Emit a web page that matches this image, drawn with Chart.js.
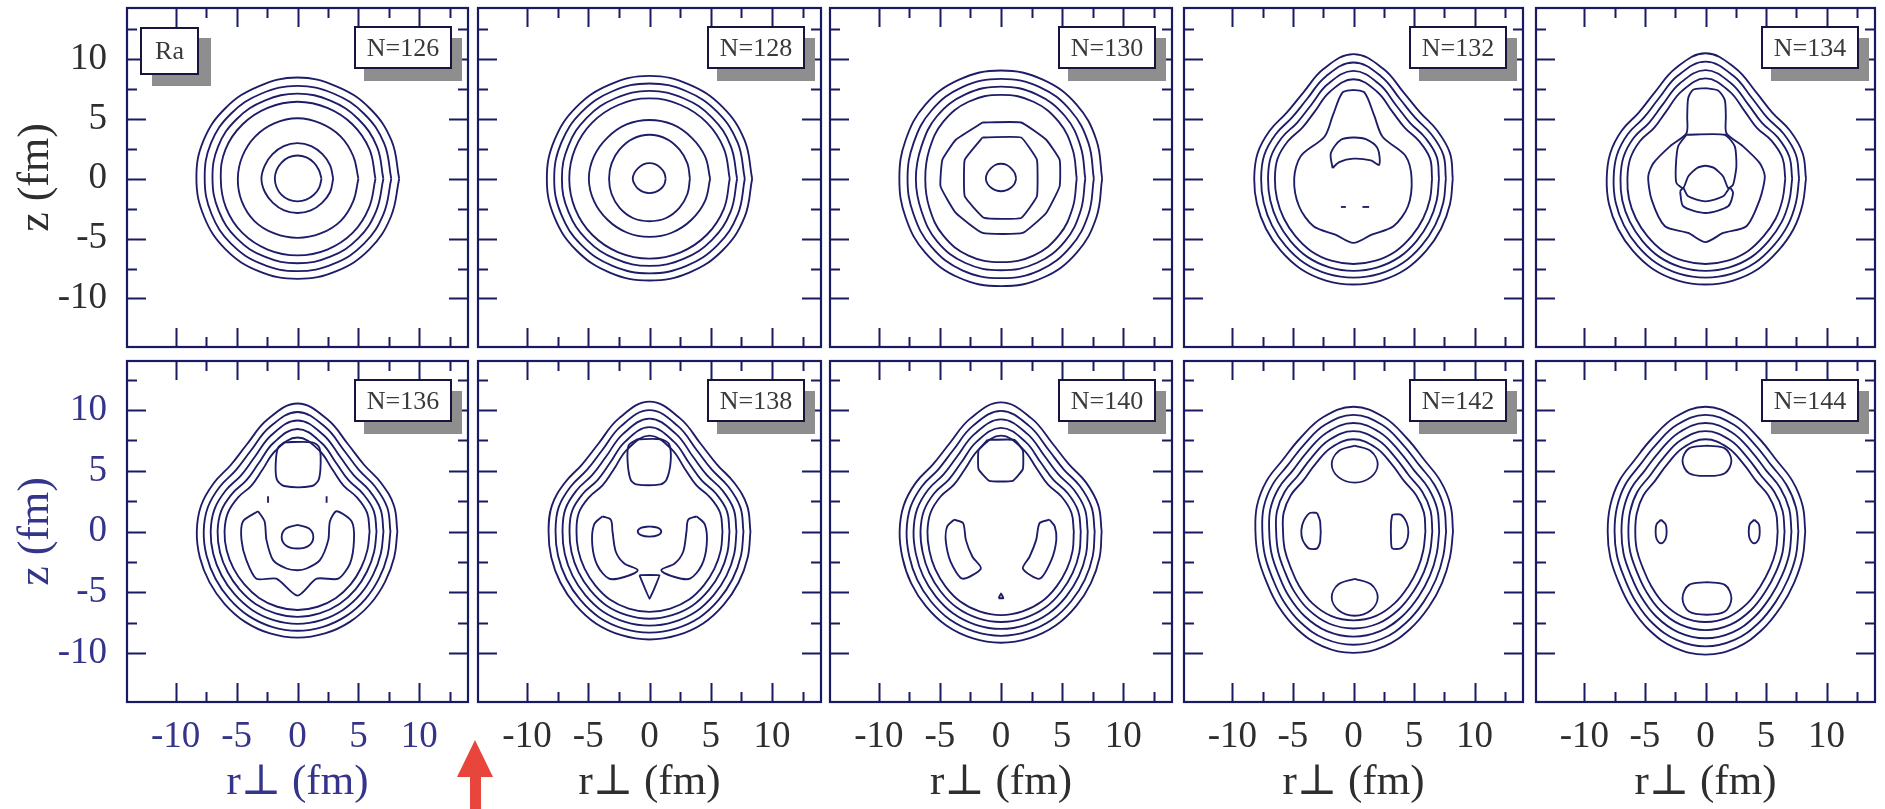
<!DOCTYPE html>
<html><head><meta charset="utf-8">
<script src="https://cdn.jsdelivr.net/npm/chart.js@4.4.1/dist/chart.umd.min.js"></script>
<style>
html,body{margin:0;padding:0;background:#fff;width:1885px;height:809px;overflow:hidden;position:relative}
canvas{position:absolute}
.lbl{position:absolute;box-sizing:border-box;border:2px solid #15153f;background:#fff;box-shadow:10px 12px 0 #8e8e8e;font-family:"Liberation Serif",serif;font-size:26px;color:#3a3a3a;display:flex;align-items:center;justify-content:center;line-height:1}
</style></head><body>
<svg style="position:absolute;left:440px;top:730px" width="80" height="79"><polygon points="35,10 17,47 30,47 30,79 41,79 41,47 53,47" fill="#e8453c"/></svg>
<script>
// ---------- text / ticks ----------
const panelNames = ['N=126','N=128','N=130','N=132','N=134','N=136','N=138','N=140','N=142','N=144'];
const elementName = 'Ra';
const xTitle = 'r\u22A5 (fm)';
const yTitle = 'z (fm)';
const majorTicks = [-10, -5, 0, 5, 10];
const majorTickLabels = ['-10', '-5', '0', '5', '10'];
const minorTicks = [-7.5, -2.5, 2.5, 7.5, 12.5];
// angles (degrees) at which radii of origin-centred contours are read
const ringAngles16 = [0, 22.5, 45, 67.5, 90, 112.5, 135, 157.5, 180, 202.5, 225, 247.5, 270, 292.5, 315, 337.5];
const ringAngles24 = [0, 15, 30, 45, 60, 75, 90, 105, 120, 135, 150, 165, 180, 195, 210, 225, 240, 255, 270, 285, 300, 315, 330, 345];

// ---------- contour data (fm) ----------
// N=126
const rings126 = [
  [8.35,8.35,8.35,8.35,8.45,8.35,8.35,8.35,8.3,8.3,8.35,8.35,8.36,8.35,8.35,8.3],
  [7.7,7.7,7.7,7.7,7.75,7.7,7.7,7.7,7.62,7.65,7.7,7.7,7.72,7.7,7.7,7.65],
  [7.05,7.05,7.05,7.05,7.1,7.05,7.05,7.05,6.98,7.0,7.05,7.05,7.06,7.05,7.05,7.0],
  [6.4,6.4,6.4,6.4,6.42,6.4,6.4,6.4,6.3,6.35,6.4,6.4,6.4,6.4,6.4,6.35],
  [5.0,4.95,5.0,5.0,5.05,5.0,4.95,4.9,4.9,4.95,5.0,4.95,4.94,4.95,5.0,4.95],
  [2.93,2.9,2.9,2.95,2.97,2.95,2.9,2.9,2.96,2.9,2.85,2.86,2.86,2.86,2.85,2.9],
  [1.97,1.9,1.9,1.92,1.94,1.92,1.88,1.86,1.86,1.86,1.88,1.89,1.89,1.89,1.9,1.93]
];
const islands126 = [];
const islandTension126 = [];
const strokes126 = [];
// N=128
const rings128 = [
  [8.38,8.4,8.45,8.5,8.58,8.5,8.45,8.4,8.38,8.4,8.45,8.48,8.5,8.48,8.45,8.4],
  [7.78,7.8,7.85,7.9,7.95,7.9,7.85,7.8,7.78,7.8,7.85,7.88,7.9,7.88,7.85,7.8],
  [7.15,7.17,7.22,7.27,7.33,7.27,7.22,7.17,7.15,7.17,7.22,7.25,7.28,7.25,7.22,7.17],
  [6.55,6.57,6.62,6.66,6.7,6.66,6.62,6.57,6.55,6.57,6.62,6.65,6.67,6.65,6.62,6.57],
  [4.95,4.9,4.85,4.9,4.9,4.9,4.85,4.9,4.95,4.9,4.85,4.86,4.86,4.86,4.85,4.9],
  [3.3,3.35,3.45,3.6,3.67,3.6,3.45,3.35,3.3,3.35,3.45,3.55,3.55,3.55,3.45,3.35],
  [1.32,1.3,1.28,1.3,1.3,1.3,1.28,1.32,1.37,1.3,1.25,1.22,1.2,1.22,1.25,1.3]
];
const islands128 = [];
const islandTension128 = [];
const strokes128 = [];
// N=130
const rings130 = [
  [8.28,8.45,8.75,8.95,9.03,8.95,8.75,8.45,8.32,8.45,8.75,8.95,8.97,8.95,8.75,8.45],
  [7.6,7.75,8.05,8.28,8.33,8.28,8.05,7.75,7.65,7.75,8.05,8.28,8.3,8.28,8.05,7.75],
  [6.9,7.05,7.4,7.62,7.69,7.62,7.4,7.05,6.97,7.05,7.4,7.62,7.64,7.62,7.4,7.05],
  [6.2,6.35,6.7,6.95,7.0,6.95,6.7,6.35,6.2,6.35,6.7,6.95,6.97,6.95,6.7,6.35],
  [1.24,1.22,1.2,1.24,1.25,1.24,1.2,1.22,1.24,1.18,1.1,1.06,1.05,1.06,1.1,1.18]
];
const islands130 = [
  [[-1.51,4.69],[1.65,4.69],[3.7,3.25],[4.8,1.58],[4.8,-0.64],[3.7,-2.86],[1.78,-4.53],[-1.51,-4.53],[-3.7,-2.86],[-4.95,-0.64],[-4.8,1.58],[-3.7,3.25]],
  [[-1.51,3.44],[1.65,3.44],[2.94,1.58],[2.94,-1.47],[1.65,-3.28],[-1.37,-3.28],[-2.97,-1.47],[-2.97,1.58]]
];
const islandTension130 = [0.12, 0.1];
const strokes130 = [];
// N=132
const rings132 = [
  [8.2,8.25,8.0,7.8,8.3,9.5,10.4,9.5,8.3,7.8,8.0,8.2,8.2,8.25,8.35,8.5,8.7,8.8,8.83,8.8,8.7,8.5,8.35,8.25],
  [7.63,7.68,7.42,7.2,7.68,8.84,9.7,8.84,7.68,7.2,7.42,7.63,7.63,7.68,7.78,7.93,8.13,8.23,8.26,8.23,8.13,7.93,7.78,7.68],
  [7.06,7.11,6.84,6.6,7.06,8.18,9.0,8.18,7.06,6.6,6.84,7.06,7.06,7.11,7.21,7.36,7.56,7.66,7.69,7.66,7.56,7.36,7.21,7.11],
  [6.49,6.54,6.26,6.0,6.44,7.52,8.3,7.52,6.44,6.0,6.26,6.49,6.49,6.54,6.64,6.79,6.99,7.09,7.12,7.09,6.99,6.79,6.64,6.54]
];
const islands132 = [
  [[0,7.42],[0.9,7.2],[1.7,5.3],[2.4,3.5],[4.3,1.9],[4.8,0],[4.5,-2.3],[3.3,-3.97],[1.5,-4.67],[0,-5.36],[-1.5,-4.67],[-3.3,-3.97],[-4.5,-2.3],[-4.9,0],[-4.35,1.9],[-2.4,3.5],[-1.7,5.3],[-0.9,7.2]],
  [[-1.73,0.89],[-1.87,2.14],[-1.04,3.25],[0,3.44],[1.02,3.3],[1.98,2.55],[2.12,1.17],[1.43,1.53],[0,1.67],[-1.18,1.39]]
];
const islandTension132 = [0.3, 0.3];
const strokes132 = [
  [[-1.04,-2.36],[-0.63,-2.36]],
  [[0.74,-2.36],[1.29,-2.36]]
];
// N=134
const rings134 = [
  [8.3,8.3,8.05,7.8,8.35,9.55,10.47,9.55,8.35,7.8,8.0,8.15,8.16,8.25,8.35,8.5,8.7,8.8,8.83,8.8,8.7,8.5,8.4,8.3],
  [7.73,7.73,7.47,7.2,7.73,8.89,9.77,8.89,7.73,7.2,7.42,7.58,7.59,7.68,7.78,7.93,8.13,8.23,8.26,8.23,8.13,7.93,7.83,7.73],
  [7.16,7.16,6.89,6.6,7.11,8.23,9.07,8.23,7.11,6.6,6.84,7.01,7.02,7.11,7.21,7.36,7.56,7.66,7.69,7.66,7.56,7.36,7.26,7.16],
  [6.59,6.59,6.31,6.0,6.49,7.57,8.37,7.57,6.49,6.0,6.26,6.44,6.45,6.54,6.64,6.79,6.99,7.09,7.12,7.09,6.99,6.79,6.69,6.59]
];
const islands134 = [
  [[0,7.56],[1.04,7.36],[1.59,6.58],[1.68,5.2],[1.73,3.8],[3.1,2.7],[4.48,1.3],[4.9,0.2],[4.48,-1.75],[3.38,-3.97],[1.46,-4.53],[0,-5.3],[-1.43,-4.53],[-3.35,-3.97],[-4.45,-1.75],[-4.73,0.2],[-4.3,1.3],[-2.94,2.7],[-1.57,3.8],[-1.51,5.2],[-1.43,6.72],[-1.02,7.42]],
  [[-1.57,3.67],[1.59,3.67],[2.42,2.7],[2.55,1.03],[2.28,-0.5],[1.87,-0.78],[1.46,0.19],[0.7,0.9],[0,1.08],[-0.7,0.9],[-1.43,0.19],[-1.84,-0.78],[-2.4,-0.36],[-2.45,1.03],[-2.26,2.7]],
  [[-2.1,-1.05],[-1.84,-2.3],[0,-2.86],[1.87,-2.3],[2.28,-1.19],[2.0,-0.78],[1.46,-1.47],[0,-1.89],[-1.43,-1.47],[-1.84,-0.78]]
];
const islandTension134 = [0.25, 0.2, 0.25];
const strokes134 = [];
// N=136
const rings136 = [
  [8.2,8.2,7.95,7.75,8.3,9.55,10.55,9.55,8.3,7.75,7.95,8.2,8.27,8.3,8.35,8.45,8.6,8.7,8.75,8.7,8.6,8.45,8.3,8.22],
  [7.63,7.63,7.37,7.15,7.68,8.89,9.85,8.89,7.68,7.15,7.37,7.63,7.7,7.73,7.78,7.88,8.03,8.13,8.18,8.13,8.03,7.88,7.73,7.65],
  [7.06,7.06,6.79,6.55,7.06,8.23,9.15,8.23,7.06,6.55,6.79,7.06,7.13,7.16,7.21,7.31,7.46,7.56,7.61,7.56,7.46,7.31,7.16,7.08],
  [6.49,6.49,6.21,5.95,6.44,7.57,8.45,7.57,6.44,5.95,6.21,6.49,6.56,6.59,6.64,6.74,6.89,6.99,7.04,6.99,6.89,6.74,6.59,6.51],
  [5.92,5.92,5.63,5.35,5.82,6.91,7.75,6.91,5.82,5.35,5.63,5.92,5.99,6.02,6.07,6.17,6.32,6.42,6.47,6.42,6.32,6.17,6.02,5.94]
];
const islands136 = [
  [[-1.1,7.35],[1.2,7.35],[1.8,6.9],[1.9,5.6],[1.75,4.3],[1.2,3.75],[-1.1,3.75],[-1.7,4.3],[-1.79,5.6],[-1.6,6.9]],
  [[-3.24,1.67],[-4.48,0.83],[-4.6,-0.69],[-4.2,-2.36],[-3.38,-3.89],[-1.73,-3.89],[0,-5.28],[1.57,-3.89],[3.35,-3.89],[4.31,-2.64],[4.64,-0.69],[4.45,0.83],[3.21,1.67],[2.66,0.83],[2.53,-0.69],[1.84,-2.36],[0.74,-3.05],[0,-3.19],[-0.9,-3.05],[-2.0,-2.36],[-2.55,-0.69],[-2.7,0.83]],
  [[0,0.55],[0.95,0.25],[1.3,-0.45],[0.95,-1.15],[0,-1.4],[-0.95,-1.15],[-1.3,-0.45],[-0.95,0.25]]
];
const islandTension136 = [0.3, 0.25, 0.35];
const strokes136 = [
  [[-2.42,2.9],[-2.42,2.36]],
  [[2.39,2.9],[2.39,2.36]]
];
// N=138
const rings138 = [
  [8.24,8.25,8.0,7.8,8.35,9.65,10.7,9.65,8.35,7.8,8.0,8.25,8.24,8.3,8.4,8.55,8.75,8.85,8.9,8.85,8.75,8.55,8.4,8.3],
  [7.67,7.68,7.42,7.2,7.73,8.99,10.0,8.99,7.73,7.2,7.42,7.68,7.67,7.73,7.83,7.98,8.18,8.28,8.33,8.28,8.18,7.98,7.83,7.73],
  [7.1,7.11,6.84,6.6,7.11,8.33,9.3,8.33,7.11,6.6,6.84,7.11,7.1,7.16,7.26,7.41,7.61,7.71,7.76,7.71,7.61,7.41,7.26,7.16],
  [6.53,6.54,6.26,6.0,6.49,7.67,8.6,7.67,6.49,6.0,6.26,6.54,6.53,6.59,6.69,6.84,7.04,7.14,7.19,7.14,7.04,6.84,6.69,6.59],
  [5.96,5.97,5.68,5.4,5.87,7.01,7.9,7.01,5.87,5.4,5.68,5.97,5.96,6.02,6.12,6.27,6.47,6.57,6.62,6.57,6.47,6.27,6.12,6.02]
];
const islands138 = [
  [[-1.0,7.6],[0.9,7.6],[1.6,7.2],[1.73,5.8],[1.4,4.3],[0.9,3.89],[-1.1,3.89],[-1.55,4.3],[-1.79,5.8],[-1.7,7.1]],
  [[-3.85,1.25],[-4.53,0.56],[-4.67,-1.1],[-4.26,-2.78],[-3.3,-3.89],[-2.06,-3.75],[-0.96,-3.19],[-2.06,-2.64],[-2.75,-1.67],[-3.02,0],[-3.16,0.97]],
  [[3.85,1.25],[4.53,0.56],[4.67,-1.1],[4.26,-2.78],[3.3,-3.89],[2.06,-3.75],[0.96,-3.19],[2.06,-2.64],[2.75,-1.67],[3.02,0],[3.16,0.97]],
  [[0,0.42],[0.7,0.3],[0.96,0],[0.7,-0.3],[0,-0.42],[-0.7,-0.3],[-0.96,0],[-0.7,0.3]],
  [[-0.82,-3.6],[0.82,-3.6],[0,-5.55]]
];
const islandTension138 = [0.3, 0.3, 0.3, 0.35, 0.05];
const strokes138 = [];
// N=140
const rings140 = [
  [8.24,8.25,8.05,7.85,8.4,9.65,10.64,9.65,8.4,7.85,8.05,8.25,8.3,8.35,8.5,8.7,8.95,9.1,9.17,9.1,8.95,8.7,8.5,8.35],
  [7.67,7.68,7.47,7.25,7.78,8.99,9.94,8.99,7.78,7.25,7.47,7.68,7.73,7.78,7.93,8.13,8.38,8.53,8.6,8.53,8.38,8.13,7.93,7.78],
  [7.1,7.11,6.89,6.65,7.16,8.33,9.24,8.33,7.16,6.65,6.89,7.11,7.16,7.21,7.36,7.56,7.81,7.96,8.03,7.96,7.81,7.56,7.36,7.21],
  [6.53,6.54,6.31,6.05,6.54,7.67,8.54,7.67,6.54,6.05,6.31,6.54,6.59,6.64,6.79,6.99,7.24,7.39,7.46,7.39,7.24,6.99,6.79,6.64],
  [5.96,5.97,5.73,5.45,5.92,7.01,7.9,7.01,5.92,5.45,5.73,5.97,6.02,6.07,6.22,6.42,6.67,6.82,6.89,6.82,6.67,6.42,6.22,6.07]
];
const islands140 = [
  [[-1.1,7.55],[1.1,7.55],[1.79,6.67],[1.79,5.14],[0.96,4.17],[-0.96,4.17],[-1.84,5.14],[-1.84,6.67]],
  [[-3.85,0.97],[-4.4,0.42],[-4.53,-0.69],[-4.12,-2.5],[-3.16,-3.89],[-1.65,-3.05],[-2.34,-2.08],[-2.88,-0.69],[-3.1,0.69]],
  [[3.98,0.97],[4.4,0.42],[4.53,-0.69],[4.12,-2.36],[3.16,-3.89],[1.79,-3.05],[2.34,-2.08],[2.88,-0.69],[3.16,0.69]],
  [[-0.2,-5.5],[0.2,-5.5],[0,-5.1]]
];
const islandTension140 = [0.12, 0.25, 0.25, 0.05];
const strokes140 = [];
// N=142
const rings142 = [
  [8.22,8.3,8.3,8.3,8.85,9.75,10.28,9.75,8.85,8.3,8.3,8.25,8.1,8.15,8.3,8.75,9.3,9.8,10.0,9.8,9.3,8.8,8.45,8.25],
  [7.65,7.73,7.72,7.7,8.23,9.1,9.61,9.1,8.23,7.7,7.72,7.68,7.53,7.58,7.72,8.15,8.68,9.15,9.33,9.15,8.68,8.2,7.87,7.68],
  [7.08,7.16,7.14,7.1,7.61,8.45,8.94,8.45,7.61,7.1,7.14,7.11,6.96,7.01,7.14,7.55,8.06,8.5,8.66,8.5,8.06,7.6,7.29,7.11],
  [6.51,6.59,6.56,6.5,6.99,7.8,8.27,7.8,6.99,6.5,6.56,6.54,6.39,6.44,6.56,6.95,7.44,7.85,7.99,7.85,7.44,7.0,6.71,6.54],
  [5.94,6.02,5.98,5.9,6.37,7.15,7.6,7.15,6.37,5.9,5.98,5.97,5.82,5.87,5.98,6.35,6.82,7.2,7.32,7.2,6.82,6.4,6.13,5.97]
];
const islands142 = [
  [[0.1,7.07],[1.44,6.62],[2.0,5.55],[1.44,4.48],[0.1,4.03],[-1.24,4.48],[-1.8,5.55],[-1.24,6.62]],
  [[0.1,-3.9],[1.44,-4.35],[2.0,-5.42],[1.44,-6.49],[0.1,-6.94],[-1.24,-6.49],[-1.8,-5.42],[-1.24,-4.35]],
  [[-3.0,1.53],[-2.75,0.8],[-2.75,-0.8],[-3.0,-1.39],[-3.7,-1.39],[-4.2,-0.7],[-4.31,0.1],[-4.1,0.9],[-3.6,1.53]],
  [[3.2,1.39],[3.9,1.39],[4.4,0.7],[4.53,-0.1],[4.35,-0.9],[3.9,-1.39],[3.2,-1.39],[3.1,-0.7],[3.1,0.7]]
];
const islandTension142 = [0.35, 0.35, 0.25, 0.25];
const strokes142 = [];
// N=144
const rings144 = [
  [8.24,8.3,8.3,8.3,8.85,9.75,10.28,9.75,8.85,8.3,8.25,8.15,8.08,8.15,8.3,8.75,9.35,9.9,10.14,9.9,9.35,8.8,8.45,8.3],
  [7.67,7.73,7.72,7.7,8.23,9.1,9.61,9.1,8.23,7.7,7.67,7.58,7.51,7.58,7.72,8.15,8.73,9.25,9.47,9.25,8.73,8.2,7.87,7.73],
  [7.1,7.16,7.14,7.1,7.61,8.45,8.94,8.45,7.61,7.1,7.09,7.01,6.94,7.01,7.14,7.55,8.11,8.6,8.8,8.6,8.11,7.6,7.29,7.16],
  [6.53,6.59,6.56,6.5,6.99,7.8,8.27,7.8,6.99,6.5,6.51,6.44,6.37,6.44,6.56,6.95,7.49,7.95,8.13,7.95,7.49,7.0,6.71,6.59],
  [5.96,6.02,5.98,5.9,6.37,7.15,7.6,7.15,6.37,5.9,5.93,5.87,5.8,5.87,5.98,6.35,6.87,7.3,7.46,7.3,6.87,6.4,6.13,6.02]
];
const islands144 = [
  [[0.12,7.08],[1.6,6.85],[2.14,5.83],[1.6,4.8],[0.12,4.58],[-1.36,4.8],[-1.9,5.83],[-1.36,6.85]],
  [[0.12,-4.17],[1.6,-4.4],[2.14,-5.5],[1.6,-6.6],[0.12,-6.86],[-1.36,-6.6],[-1.9,-5.5],[-1.36,-4.4]],
  [[-3.67,0.97],[-3.3,0.6],[-3.21,0],[-3.3,-0.6],[-3.67,-0.97],[-4.04,-0.6],[-4.12,0],[-4.04,0.6]],
  [[4.03,0.97],[4.4,0.6],[4.48,0],[4.4,-0.6],[4.03,-0.97],[3.66,-0.6],[3.57,0],[3.66,0.6]]
];
const islandTension144 = [0.35, 0.35, 0.35, 0.35];
const strokes144 = [];

// ---------- assembly ----------
const panelRings = [rings126, rings128, rings130, rings132, rings134, rings136, rings138, rings140, rings142, rings144];
const panelIslands = [islands126, islands128, islands130, islands132, islands134, islands136, islands138, islands140, islands142, islands144];
const panelIslandTension = [islandTension126, islandTension128, islandTension130, islandTension132, islandTension134, islandTension136, islandTension138, islandTension140, islandTension142, islandTension144];
const panelStrokes = [strokes126, strokes128, strokes130, strokes132, strokes134, strokes136, strokes138, strokes140, strokes142, strokes144];

const colLeft = [127, 478, 830, 1184, 1536];
const colWidth = [341, 343, 342, 339, 339];
const rowTop = [8, 361];
const rowHeight = [339, 341];
const yRange = [[-14.05, 14.25], [-14.05, 14.05]];
const xRange = [-14, 14];

const NAVY = '#1c1c68';
const FRAME = '#1a1a62';
const SERIF = '"Liberation Serif", "DejaVu Serif", serif';

function ringPoints(radii) {
  const angles = radii.length === 24 ? ringAngles24 : ringAngles16;
  const pts = radii.map((r, i) => {
    const a = angles[i] * Math.PI / 180;
    return {x: r * Math.cos(a), y: r * Math.sin(a)};
  });
  pts.push(pts[0]);
  return pts;
}
function loopPoints(list, close) {
  const pts = list.map(p => ({x: p[0], y: p[1]}));
  if (close) pts.push(pts[0]);
  return pts;
}

const framePlugin = {
  id: 'frameTicks',
  afterDraw(chart) {
    const {ctx, chartArea: a} = chart;
    const xs = chart.scales.x, ys = chart.scales.y;
    ctx.save();
    ctx.strokeStyle = FRAME;
    ctx.lineWidth = 2;
    ctx.beginPath();
    const draw = (vals, len) => {
      vals.forEach(v => {
        const px = Math.round(xs.getPixelForValue(v)) + 0.5;
        ctx.moveTo(px, a.top); ctx.lineTo(px, a.top + len);
        ctx.moveTo(px, a.bottom); ctx.lineTo(px, a.bottom - len);
        const py = Math.round(ys.getPixelForValue(v)) + 0.5;
        ctx.moveTo(a.left, py); ctx.lineTo(a.left + len, py);
        ctx.moveTo(a.right, py); ctx.lineTo(a.right - len, py);
      });
    };
    draw(majorTicks, 19);
    draw(minorTicks, 10);
    ctx.stroke();
    ctx.lineWidth = 2.2;
    ctx.strokeRect(a.left, a.top, a.right - a.left, a.bottom - a.top);
    ctx.restore();
  }
};

function zeroPad(s) { s.paddingTop = 0; s.paddingBottom = 0; s.paddingLeft = 0; s.paddingRight = 0; }

for (let p = 0; p < 10; p++) {
  const row = Math.floor(p / 5), col = p % 5;
  const mL = col === 0 ? 127 : 4, mR = 4, mT = 4;
  const mB = row === 1 ? 809 - (rowTop[1] + rowHeight[1]) : 4;
  const W = colWidth[col] + mL + mR, H = rowHeight[row] + mT + mB;
  const cv = document.createElement('canvas');
  cv.width = W; cv.height = H;
  cv.style.left = (colLeft[col] - mL) + 'px';
  cv.style.top = (rowTop[row] - mT) + 'px';
  cv.style.width = W + 'px'; cv.style.height = H + 'px';
  document.body.appendChild(cv);

  const datasets = [];
  const style = {showLine: true, pointRadius: 0, pointHoverRadius: 0, borderColor: NAVY, borderWidth: 1.85, fill: false};
  panelRings[p].forEach(r => datasets.push(Object.assign({data: ringPoints(r), tension: 0.4}, style)));
  panelIslands[p].forEach((isl, i) => datasets.push(Object.assign({data: loopPoints(isl, true), tension: panelIslandTension[p][i]}, style)));
  panelStrokes[p].forEach(s => datasets.push(Object.assign({data: loopPoints(s, false), tension: 0}, style)));

  const labelColorY = row === 0 ? '#2e2e2e' : '#34348a';
  const labelColorX = col === 0 ? '#34348a' : '#2e2e2e';
  const showX = row === 1, showY = col === 0;

  new Chart(cv, {
    type: 'scatter',
    data: {datasets},
    options: {
      responsive: false, animation: false, devicePixelRatio: 1,
      events: [],
      layout: {padding: {left: showY ? 0 : 4, right: 4, top: 4, bottom: showX ? 0 : 4}},
      plugins: {legend: {display: false}, tooltip: {enabled: false}},
      scales: {
        x: {
          type: 'linear', min: xRange[0], max: xRange[1], position: 'bottom',
          display: showX,
          afterFit(s) { zeroPad(s); if (showX) s.height = mB; },
          afterBuildTicks(s) { s.ticks = majorTicks.map(v => ({value: v})); },
          grid: {display: false, drawTicks: false}, border: {display: false},
          ticks: {autoSkip: false, maxRotation: 0, padding: 13, color: labelColorX,
            font: {family: SERIF, size: 37},
            callback: v => majorTickLabels[majorTicks.indexOf(v)]},
          title: {display: true, text: xTitle, color: labelColorX, font: {family: SERIF, size: 43}, padding: {top: 0, bottom: 0}}
        },
        y: {
          type: 'linear', min: yRange[row][0], max: yRange[row][1], position: 'left',
          display: showY,
          afterFit(s) { zeroPad(s); if (showY) s.width = 127; },
          afterBuildTicks(s) { s.ticks = majorTicks.map(v => ({value: v})); },
          grid: {display: false, drawTicks: false}, border: {display: false},
          ticks: {autoSkip: false, padding: 20, color: labelColorY,
            font: {family: SERIF, size: 37},
            callback: v => majorTickLabels[majorTicks.indexOf(v)]},
          title: {display: true, text: yTitle, color: labelColorY, font: {family: SERIF, size: 44}, padding: {top: 10, bottom: 0}}
        }
      }
    },
    plugins: [framePlugin]
  });

  const lb = document.createElement('div');
  lb.className = 'lbl';
  lb.textContent = panelNames[p];
  lb.style.width = '98px'; lb.style.height = '43px';
  lb.style.left = (colLeft[col] + colWidth[col] - 16 - 98) + 'px';
  lb.style.top = (rowTop[row] + 18) + 'px';
  document.body.appendChild(lb);
}
const ra = document.createElement('div');
ra.className = 'lbl';
ra.textContent = elementName;
ra.style.width = '59px'; ra.style.height = '48px';
ra.style.left = (colLeft[0] + 13) + 'px';
ra.style.top = (rowTop[0] + 19) + 'px';
ra.style.boxShadow = '12px 11px 0 #8e8e8e';
document.body.appendChild(ra);
</script>
</body></html>
